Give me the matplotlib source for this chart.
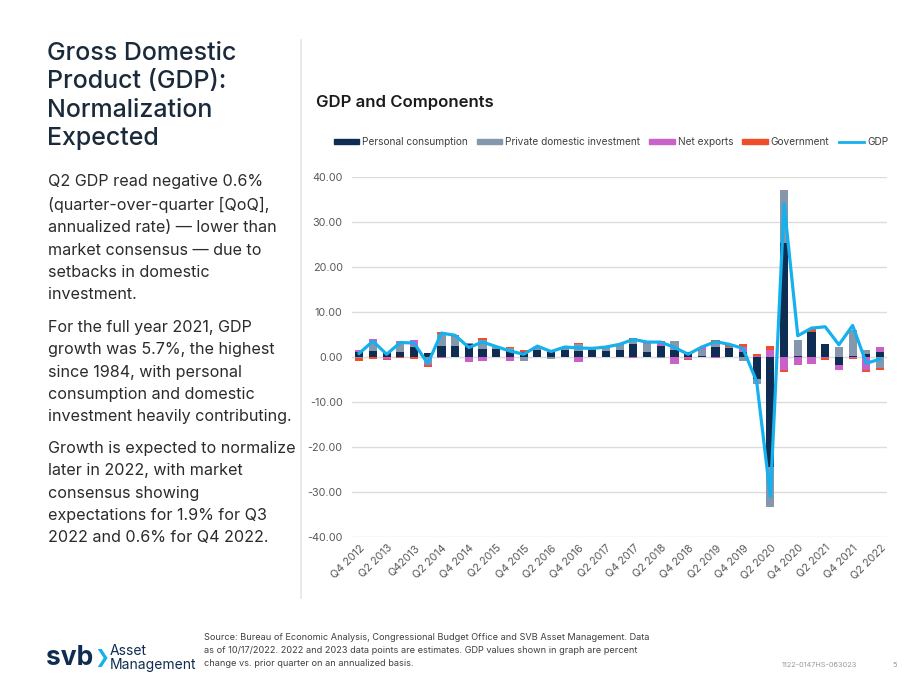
import matplotlib.pyplot as plt
import numpy as np
from matplotlib.lines import Line2D
from matplotlib.patches import Patch

plt.rcParams['font.family'] = ['Inter', 'DejaVu Sans']

# quarters Q4 2012 .. Q2 2022
quarters = ['Q4 2012',
            'Q1 2013', 'Q2 2013', 'Q3 2013', 'Q4 2013',
            'Q1 2014', 'Q2 2014', 'Q3 2014', 'Q4 2014',
            'Q1 2015', 'Q2 2015', 'Q3 2015', 'Q4 2015',
            'Q1 2016', 'Q2 2016', 'Q3 2016', 'Q4 2016',
            'Q1 2017', 'Q2 2017', 'Q3 2017', 'Q4 2017',
            'Q1 2018', 'Q2 2018', 'Q3 2018', 'Q4 2018',
            'Q1 2019', 'Q2 2019', 'Q3 2019', 'Q4 2019',
            'Q1 2020', 'Q2 2020', 'Q3 2020', 'Q4 2020',
            'Q1 2021', 'Q2 2021', 'Q3 2021', 'Q4 2021',
            'Q1 2022', 'Q2 2022']
tick_labels = ['Q4 2012', 'Q2 2013', 'Q42013', 'Q2 2014', 'Q4 2014',
               'Q2 2015', 'Q4 2015', 'Q2 2016', 'Q4 2016', 'Q2 2017',
               'Q4 2017', 'Q2 2018', 'Q4 2018', 'Q2 2019', 'Q4 2019',
               'Q2 2020', 'Q4 2020', 'Q2 2021', 'Q4 2021', 'Q2 2022']

consumption = [1.0, 1.3, 0.8, 1.0, 2.1, 0.9, 2.4, 2.5, 2.9, 1.7,
               1.7, 1.5, 1.2, 1.6, 1.2, 1.6, 1.3, 1.6, 1.4, 1.6,
               2.9, 1.2, 2.5, 1.6, 1.0, 0.3, 2.3, 1.9, 1.2, -4.8,
               -24.4, 25.3, 0.3, 5.5, 2.9, -1.9, 0.2, 0.7, 1.2]
investment = [-0.3, 2.1, 0.3, 2.4, 0.4, -1.4, 2.8, 2.0, 0.3, 2.1,
              0.4, 0.5, -0.9, 0.5, -0.4, 0.4, 1.5, 0.4, 0.6, 1.1,
              1.0, 1.6, -0.3, 1.9, 0.2, 1.3, 0.9, 0.4, -1.0, -1.3,
              -8.9, 11.8, 3.5, 0.0, 0.0, 2.1, 5.8, 0.8, -2.5]
net_exports = [0.5, 0.5, -0.4, 0.2, 1.2, -0.5, -0.2, 0.1, -1.1, -1.0,
               0.0, -0.8, 0.0, 0.0, 0.2, 0.1, -1.1, 0.1, 0.1, 0.0,
               -0.2, 0.2, 0.7, -1.5, -0.5, 0.5, -0.3, 0.0, 1.1, 0.2,
               1.5, -2.9, -1.8, -1.5, -0.3, -1.1, -0.2, -3.0, 1.1]
government = [-0.7, -0.4, -0.2, -0.3, -0.5, -0.4, 0.3, 0.2, 0.0, 0.5,
              0.2, 0.2, 0.3, 0.2, 0.2, 0.1, 0.3, -0.1, 0.1, 0.1,
              0.2, 0.3, 0.4, 0.1, -0.1, 0.1, 0.5, 0.4, 0.6, 0.4,
              0.9, -0.4, -0.1, 0.6, -0.4, 0.0, -0.3, -0.4, -0.3]
gdp = [0.8, 3.5, 0.6, 3.2, 3.1, -1.5, 5.3, 4.8, 2.1, 3.3,
       2.3, 1.3, 0.6, 2.4, 1.2, 2.2, 2.0, 1.9, 2.2, 2.8,
       3.9, 3.3, 3.3, 2.1, 0.6, 2.2, 3.4, 2.8, 1.9, -5.5,
       -31.0, 34.0, 4.7, 6.4, 6.7, 2.7, 7.0, -1.4, -0.5]

series = [('Personal consumption', consumption, '#0f2d52'),
          ('Private domestic investment', investment, '#8497ad'),
          ('Net exports', net_exports, '#c862c8'),
          ('Government', government, '#f04e2a')]

fig = plt.figure(figsize=(9.2, 6.9), dpi=100)
ax = fig.add_axes([0.383, 0.2217, 0.581, 0.522])

x = np.arange(len(quarters))
pos_base = np.zeros(len(quarters))
neg_base = np.zeros(len(quarters))
for name, vals, col in series:
    vals = np.array(vals)
    base = np.where(vals >= 0, pos_base, neg_base)
    ax.bar(x, vals, 0.6, bottom=base, color=col, zorder=2)
    pos_base += np.clip(vals, 0, None)
    neg_base += np.clip(vals, None, 0)

ax.plot(x, gdp, color='#14b1ec', lw=2.3, zorder=3)

ax.set_xlim(-0.5, len(quarters) - 0.5)
ax.set_ylim(-40, 40)
ax.set_yticks(np.arange(-40, 41, 10))
ax.set_yticklabels(['{:.2f}'.format(v) for v in np.arange(-40, 41, 10)])
ax.grid(axis='y', color='#dcdcdc', lw=1.0, zorder=0)
ax.axhline(0, color='#c8c8c8', lw=0.8, ls=(0, (2, 2)), zorder=1)
ax.set_xticks(x[::2])
ax.set_xticklabels(tick_labels, rotation=45, ha='right', rotation_mode='anchor')
ax.tick_params(axis='both', length=0, labelsize=7.8, colors='#595959')
ax.tick_params(axis='y', pad=7)
ax.tick_params(axis='x', pad=4)
for sp in ax.spines.values():
    sp.set_visible(False)

handles = [Patch(color=c, label=n) for n, v, c in series]
handles.append(Line2D([], [], color='#14b1ec', lw=2, label='GDP'))
fig.legend(handles=handles, loc='center', bbox_to_anchor=(0.664, 0.794),
           ncol=5, frameon=False, fontsize=7.3, handlelength=2.5,
           handleheight=0.45, handletextpad=0.3, columnspacing=0.9,
           labelcolor='#404040')

fig.text(316 / 920, 1 - 103 / 690, 'GDP and Components', fontsize=12,
         fontweight='semibold', color='#1a1a1a', va='center')

# left panel text
fig.text(47 / 920, 1 - 42 / 690,
         'Gross Domestic\nProduct (GDP):\nNormalization\nExpected',
         fontsize=18, fontweight='medium', color='#1b2a3a', va='top',
         linespacing=1.3)

paras = [(181, 'Q2 GDP read negative 0.6%\n(quarter-over-quarter [QoQ],\n'
               'annualized rate) \u2014 lower than\nmarket consensus \u2014 due to\n'
               'setbacks in domestic\ninvestment.'),
         (327, 'For the full year 2021, GDP\ngrowth was 5.7%, the highest\n'
               'since 1984, with personal\nconsumption and domestic\n'
               'investment heavily contributing.'),
         (448, 'Growth is expected to normalize\nlater in 2022, with market\n'
               'consensus showing\nexpectations for 1.9% for Q3\n'
               '2022 and 0.6% for Q4 2022.')]
for y0, txt in paras:
    fig.text(48 / 920, 1 - (y0 - 7) / 690, txt, fontsize=11.6,
             color='#2b2b2b', va='top', linespacing=1.61)

fig.add_artist(Line2D([301 / 920, 301 / 920], [1 - 40 / 690, 1 - 598 / 690],
                      color='#e6e6e6', lw=1.2))

# footer
fig.text(46 / 920, 1 - 658 / 690, 'svb', fontsize=19, fontweight='bold',
         color='#0f2d52', va='center')
fig.text(94 / 920, 1 - 658 / 690, '\u276f', fontsize=13, color='#14b1ec',
         va='center', family=['DejaVu Sans'])
fig.text(110 / 920, 1 - 658 / 690, 'Asset\nManagement', fontsize=10,
         color='#0f2d52', va='center', linespacing=0.95)
fig.text(204 / 920, 1 - 633 / 690,
         'Source: Bureau of Economic Analysis, Congressional Budget Office and SVB Asset Management. Data\n'
         'as of 10/17/2022. 2022 and 2023 data points are estimates. GDP values shown in graph are percent\n'
         'change vs. prior quarter on an annualized basis.',
         fontsize=6.6, color='#404040', va='top', linespacing=1.55)
fig.text(782 / 920, 1 - 665 / 690, '1122-0147HS-063023', fontsize=5.3,
         color='#9a9a9a', va='center')
fig.text(892 / 920, 1 - 665 / 690, '5', fontsize=5.3, color='#9a9a9a',
         va='center')

fig.savefig('out.png', dpi=100, facecolor='white')
